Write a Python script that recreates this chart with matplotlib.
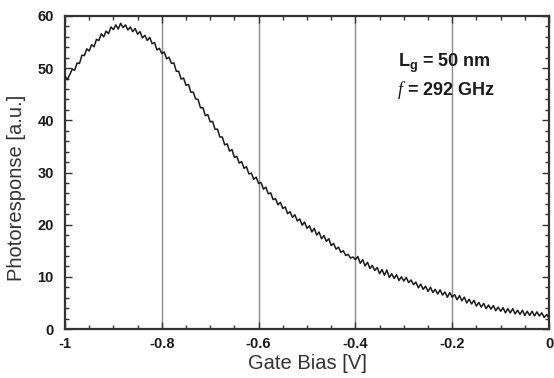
import numpy as np
import matplotlib
matplotlib.use("Agg")
import matplotlib.pyplot as plt
from matplotlib.ticker import MultipleLocator

plt.rcParams['font.family'] = ['Liberation Sans', 'DejaVu Sans']
plt.rcParams['mathtext.fontset'] = 'custom'
plt.rcParams['mathtext.bf'] = 'Liberation Sans:bold'
plt.rcParams['mathtext.rm'] = 'Liberation Sans'
plt.rcParams['mathtext.it'] = 'Liberation Serif:italic'

# Gate bias grid (V), step 0.005
gate_bias = np.linspace(-1.0, 0.0, 201)
# Photoresponse (a.u.)
photoresponse = [
    48.5, 47.8, 48.8, 49.8, 49.6, 51.0, 50.9, 52.5, 52.4, 53.7,
    53.3, 54.5, 54.1, 55.5, 55.3, 56.6, 56.0, 57.1, 56.6, 57.9,
    57.4, 58.3, 57.5, 58.6, 57.8, 58.3, 57.3, 57.9, 57.0, 57.6,
    56.5, 57.0, 55.8, 56.3, 55.3, 55.9, 54.7, 54.9, 53.5, 53.8,
    52.8, 53.1, 51.8, 52.1, 50.9, 51.0, 49.4, 49.4, 47.9, 48.1,
    46.7, 46.9, 45.4, 45.4, 44.1, 44.0, 42.4, 42.4, 40.9, 41.1,
    39.7, 39.8, 38.3, 38.3, 36.8, 36.8, 35.3, 35.5, 34.1, 34.4,
    32.9, 33.1, 31.8, 32.1, 30.8, 31.1, 29.7, 29.9, 28.7, 29.1,
    27.9, 28.1, 26.8, 27.2, 25.9, 26.1, 24.8, 25.0, 23.8, 24.3,
    23.1, 23.4, 22.1, 22.5, 21.4, 21.9, 20.7, 21.1, 19.9, 20.5,
    19.3, 19.8, 18.6, 19.3, 18.0, 18.6, 17.3, 17.9, 16.8, 17.3,
    16.0, 16.4, 15.3, 15.7, 14.7, 15.0, 14.1, 14.3, 13.6, 13.8,
    13.3, 13.9, 12.6, 13.3, 12.1, 12.8, 11.6, 12.2, 11.2, 11.8,
    10.6, 11.4, 10.3, 11.3, 9.9, 10.6, 9.7, 10.4, 9.3, 10.0,
    9.2, 9.9, 8.9, 9.4, 8.5, 9.0, 7.9, 8.6, 7.6, 8.2,
    7.2, 8.0, 7.0, 7.6, 6.7, 7.5, 6.5, 7.1, 6.1, 7.0,
    6.1, 6.6, 5.6, 6.4, 5.4, 6.1, 5.0, 5.7, 4.8, 5.5,
    4.4, 5.1, 4.2, 4.9, 3.9, 4.6, 3.8, 4.5, 3.5, 4.2,
    3.4, 4.1, 3.1, 3.9, 3.1, 3.9, 2.9, 3.6, 2.8, 3.6,
    2.6, 3.4, 2.6, 3.4, 2.5, 3.3, 2.5, 3.1, 2.2, 2.8,
    2.1,
]
grid_positions = [-0.8, -0.6, -0.4, -0.2]
x_ticks = [-1, -0.8, -0.6, -0.4, -0.2, 0]
x_tick_labels = ['-1', '-0.8', '-0.6', '-0.4', '-0.2', '0']
y_ticks = [0, 10, 20, 30, 40, 50, 60]
label_line1 = r'$\mathbf{L_g}$ = 50 nm'
label_line2 = r'$\mathit{f}$ = 292 GHz'

fig = plt.figure(figsize=(5.54, 3.78), dpi=100)
ax = fig.add_axes([0.1173, 0.1296, 0.8737, 0.8281])

for gx in grid_positions:
    ax.axvline(gx, color='#8a8a8a', lw=1.0, zorder=1)

ax.plot(gate_bias, photoresponse, color='#1a1a1a', lw=1.1, zorder=3)

ax.set_xlim(-1, 0)
ax.set_ylim(0, 60)
ax.set_xticks(x_ticks)
ax.set_xticklabels(x_tick_labels)
ax.set_yticks(y_ticks)
ax.xaxis.set_minor_locator(MultipleLocator(0.05))
ax.yaxis.set_minor_locator(MultipleLocator(2))
ax.tick_params(which='both', direction='in', top=True, right=True,
               color='#333333', width=1.0)
ax.tick_params(which='major', length=5, labelsize=10.5,
               labelcolor='#1a1a1a')
ax.tick_params(axis='x', which='major', pad=6)
ax.tick_params(axis='y', which='major', pad=8)
ax.tick_params(which='minor', length=3)
for lab in ax.get_xticklabels() + ax.get_yticklabels():
    lab.set_fontweight('bold')
for sp in ax.spines.values():
    sp.set_color('#333333')
    sp.set_linewidth(1.6)

ax.set_xlabel('Gate Bias [V]', fontsize=14.5, color='#333333', labelpad=2)
ax.set_ylabel('Photoresponse [a.u.]', fontsize=14.5, color='#333333')
ax.yaxis.set_label_coords(-0.08, 0.452)

ax.text(-0.312, 50.2, label_line1, fontsize=13, fontweight='bold',
        color='#1a1a1a', va='baseline', ha='left', zorder=4)
ax.text(-0.314, 44.8, label_line2, fontsize=13, fontweight='bold',
        color='#1a1a1a', va='baseline', ha='left', zorder=4)

fig.savefig('out.png', dpi=100)
